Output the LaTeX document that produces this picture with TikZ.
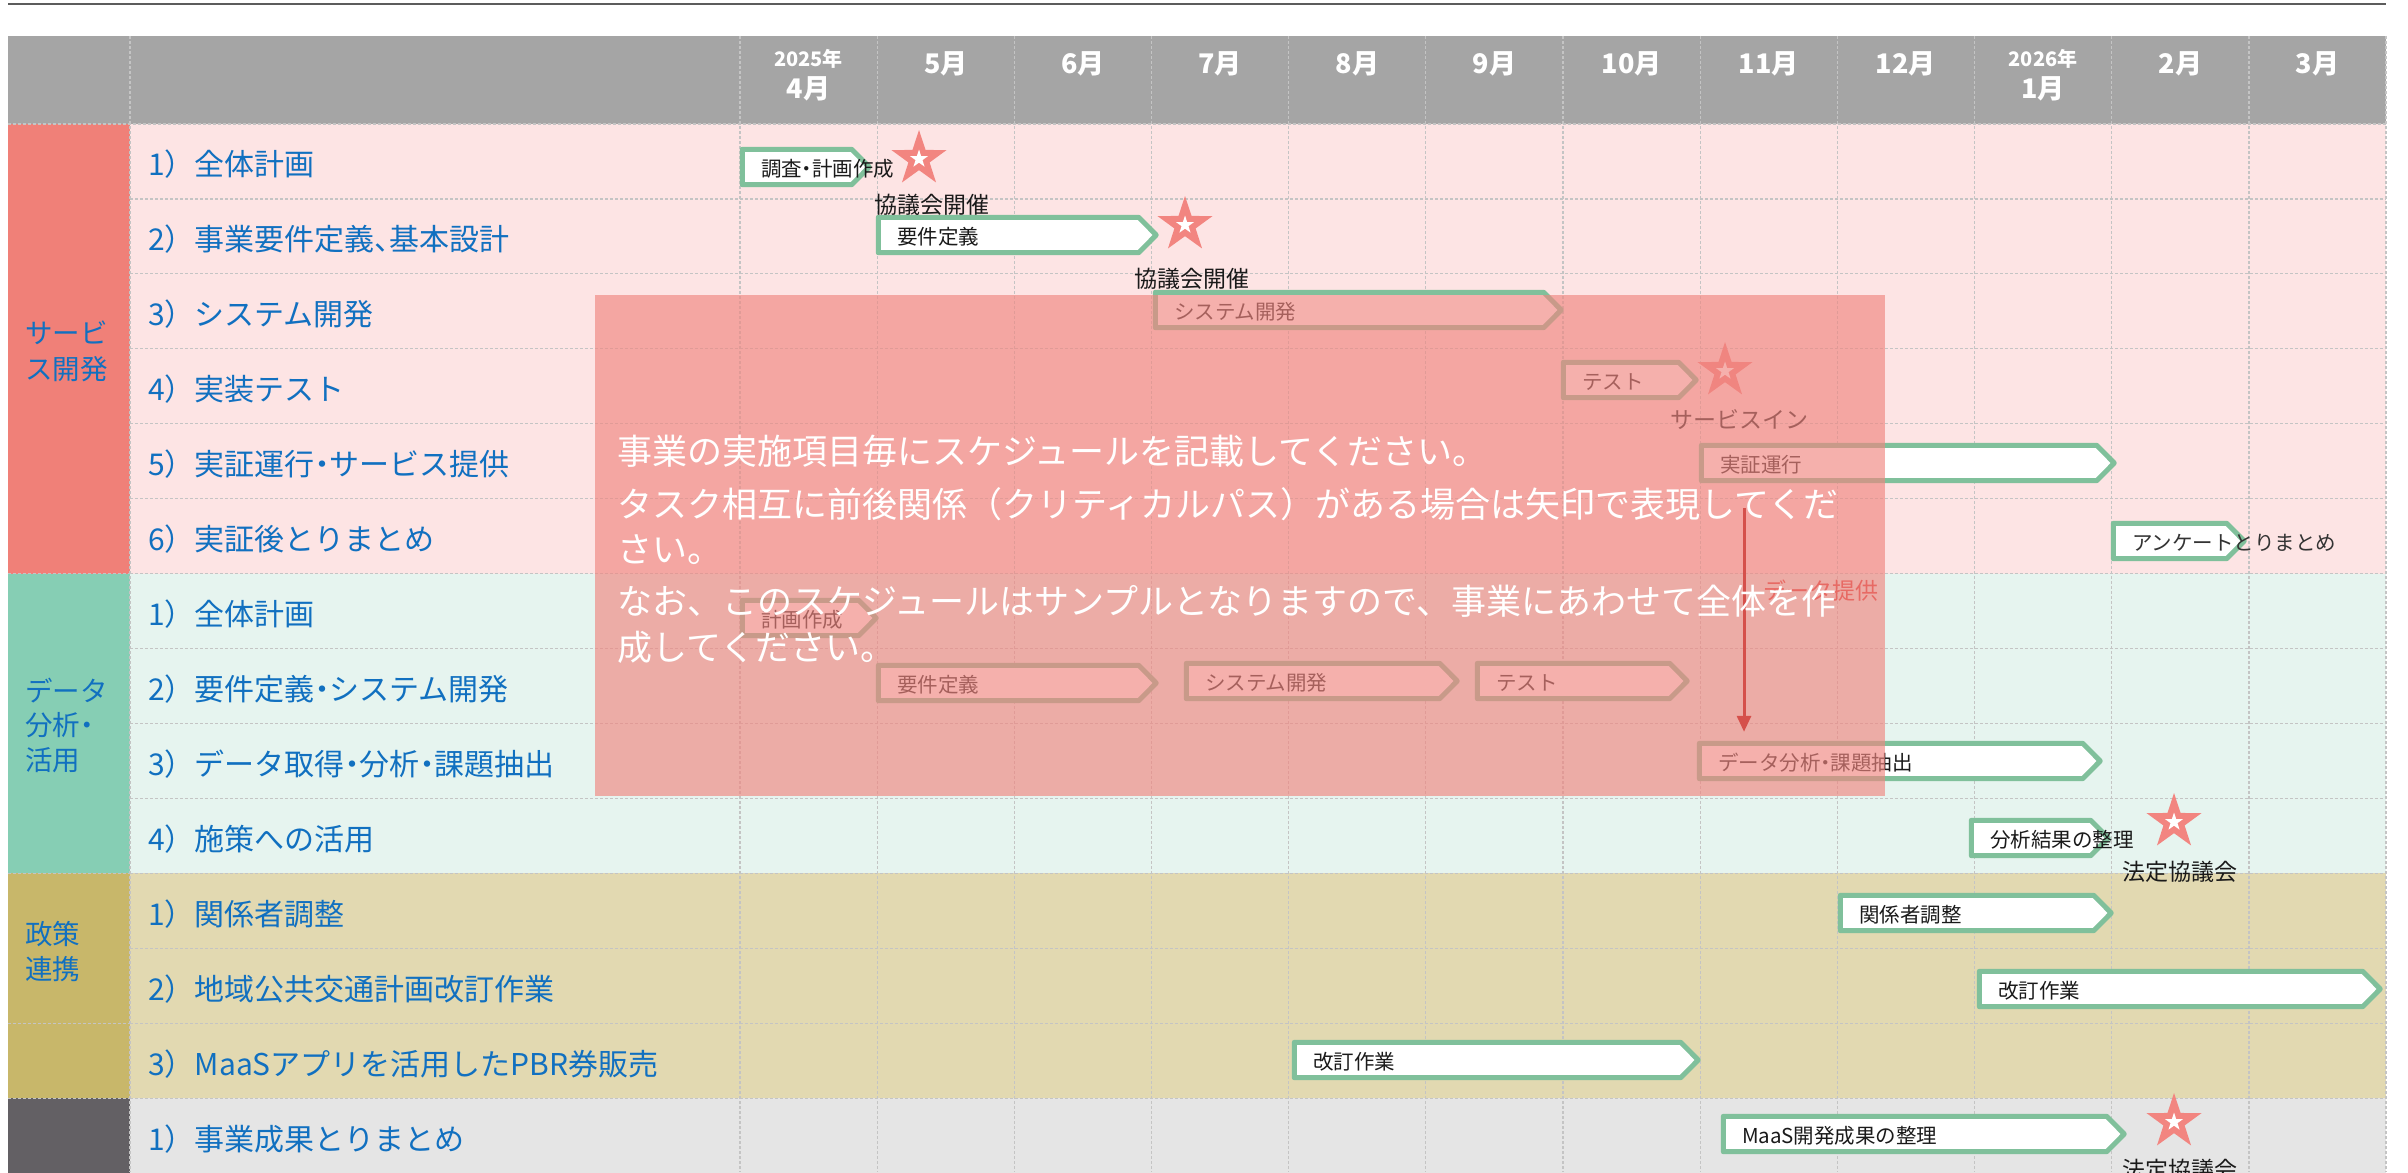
\documentclass[tikz,border=0pt]{standalone}
\usepackage{fontspec}
\setmainfont{Noto Sans CJK JP}
\usetikzlibrary{shapes.geometric,arrows.meta}
\definecolor{hdrgray}{HTML}{A5A5A5}
\definecolor{rowpink}{HTML}{FDE4E4}
\definecolor{rowmint}{HTML}{E6F4EF}
\definecolor{rowkhaki}{HTML}{E2D9B1}
\definecolor{rowgray}{HTML}{E5E5E5}
\definecolor{catpink}{HTML}{F08078}
\definecolor{catmint}{HTML}{86CEB4}
\definecolor{catkhaki}{HTML}{C8B76A}
\definecolor{catdark}{HTML}{636064}
\definecolor{labblue}{HTML}{1170C0}
\definecolor{bargreen}{HTML}{80C09B}
\definecolor{starred}{HTML}{F28580}
\definecolor{veilc}{HTML}{F08680}
\definecolor{gridc}{HTML}{C4C4C4}
\definecolor{topline}{HTML}{5C5C5C}
\definecolor{arrred}{HTML}{D5504B}
\definecolor{provred}{HTML}{D93631}
\definecolor{ink}{HTML}{1A1A1A}
\definecolor{ink2}{HTML}{333333}

\newcommand\hw[1]{{\addfontfeature{RawFeature=+halt}#1}}
\newcommand\gbar[6]{%
  \node[barbox, minimum width={#3-#2-5.5}] (#1) at ({(#2+#3-0.5)/2},#4) {};
  \draw[barline] (#1.north west) -- ([xshift=-17.5pt]#1.north east) -- (#1.east)
     -- ([xshift=-17.5pt]#1.south east) -- (#1.south west) -- cycle;
  \node[bartext, text=#6] (#1t) at ([xshift=18.5pt,yshift=-2pt]#1.west) {#5};
}
\newcommand\mstar[6]{%
  \node[bigstar] (#1) at (#2,#3) {};
  \node[smallstar] (#1w) at (#1.center) {};
  \node[mslab] (#1l) at (#4,#5) {#6};
}

\begin{document}
\begin{tikzpicture}[x=1pt,y=-1pt,
  t/.style={inner sep=0pt, font={\fontsize{#1pt}{#1pt}\selectfont}, text height={0.76*#1pt}, text depth=0pt},
  tb/.style={inner sep=0pt, font={\fontsize{#1pt}{#1pt}\selectfont\bfseries}, text height={0.76*#1pt}, text depth=0pt},
  tasklab/.style={t=30, anchor=west, text=labblue},
  catlab/.style={t=27.5, anchor=west, text=labblue},
  hdrm/.style={tb=27, text=white},
  hdry/.style={tb=20, text=white},
  barbox/.style={rectangle, inner sep=0pt, minimum height=35pt, draw=none},
  barline/.style={draw=bargreen, line width=5pt, fill=white, line join=round},
  bartext/.style={t=20.5, anchor=west},
  bigstar/.style={star, star points=5, star point ratio=2.6, fill=starred, draw=none, minimum size=58pt, inner sep=0pt},
  smallstar/.style={star, star points=5, star point ratio=2.6, fill=white, draw=none, minimum size=19pt, inner sep=0pt},
  mslab/.style={t=23, text=ink},
  gridline/.style={draw=gridc, line width=1.2pt, dash pattern=on 3pt off 2pt},
  veilbox/.style={rectangle, fill=veilc, fill opacity=0.65, draw=none, inner sep=0pt, minimum width=1290pt, minimum height=501pt},
  ovtext/.style={t=35, anchor=west, text=white},
  flowarrow/.style={draw=arrred, line width=3pt, -{Triangle[length=16pt,width=14pt]}},
  provlab/.style={t=23, anchor=west, text=provred}
]
\fill[white] (0,0) rectangle (2408,1172);
\useasboundingbox (0,0) rectangle (2408,1172);

% top rule
\draw[topline, line width=2.5pt] (8,4) -- (2386,4);

% header band
\fill[hdrgray] (8,36) rectangle (2386,124);

% row backgrounds
\fill[rowpink] (130,124) rectangle (2386,573.6);
\fill[rowmint] (130,573.6) rectangle (2386,873.3);
\fill[rowkhaki] (130,873.3) rectangle (2386,1098.1);
\fill[rowgray] (130,1098.1) rectangle (2386,1180);

% category column
\fill[catpink] (8,124) rectangle (130,573.6);
\fill[catmint] (8,573.6) rectangle (130,873.3);
\fill[catkhaki] (8,873.3) rectangle (130,1098.1);
\fill[catdark] (8,1098.1) rectangle (130,1180);

% grid
\foreach \k in {1,...,13} \draw[gridline] (130,{124+74.93*\k}) -- (2386,{124+74.93*\k});
\draw[gridline] (8,124) -- (2386,124);
\foreach \k in {6,10,12,13} \draw[gridline] (8,{124+74.93*\k}) -- (130,{124+74.93*\k});
\foreach \j in {0,...,12} \draw[gridline] ({740+137.17*\j},36) -- ({740+137.17*\j},1172);
\draw[gridline] (130,36) -- (130,1172);

% header texts
\node[hdry] (y25) at (808.6,58.5) {2025年};
\node[hdrm] (m4) at (808.6,88.5) {4月};
\node[hdrm] (m5) at (945.8,63) {5月};
\node[hdrm] (m6) at (1082.9,63) {6月};
\node[hdrm] (m7) at (1220.1,63) {7月};
\node[hdrm] (m8) at (1357.3,63) {8月};
\node[hdrm] (m9) at (1494.4,63) {9月};
\node[hdrm] (m10) at (1631.6,63) {10月};
\node[hdrm] (m11) at (1768.8,63) {11月};
\node[hdrm] (m12) at (1905.9,63) {12月};
\node[hdry] (y26) at (2043.1,58.5) {2026年};
\node[hdrm] (m1) at (2043.1,88.5) {1月};
\node[hdrm] (m2) at (2180.3,63) {2月};
\node[hdrm] (m3) at (2317.4,63) {3月};

% category labels
\node[catlab] (c1a) at (25,333.5) {サービ};
\node[catlab] (c1b) at (25,369.5) {ス開発};
\node[catlab] (c2a) at (25,691) {データ};
\node[catlab] (c2b) at (25,725.5) {分析\hw{・}};
\node[catlab] (c2c) at (25,760.5) {活用};
\node[catlab] (c3a) at (25,934.5) {政策};
\node[catlab] (c3b) at (25,969.5) {連携};

% task labels
\node[tasklab] (r0) at (148,164.5) {1）全体計画};
\node[tasklab] (r1) at (148,239.4) {2）事業要件定義\hw{、}基本設計};
\node[tasklab] (r2) at (148,314.3) {3）システム開発};
\node[tasklab] (r3) at (148,389.3) {4）実装テスト};
\node[tasklab] (r4) at (148,464.2) {5）実証運行\hw{・}サービス提供};
\node[tasklab] (r5) at (148,539.1) {6）実証後とりまとめ};
\node[tasklab] (r6) at (148,614.0) {1）全体計画};
\node[tasklab] (r7) at (148,689.0) {2）要件定義\hw{・}システム開発};
\node[tasklab] (r8) at (148,763.9) {3）データ取得\hw{・}分析\hw{・}課題抽出};
\node[tasklab] (r9) at (148,838.8) {4）施策への活用};
\node[tasklab] (r10) at (148,913.8) {1）関係者調整};
\node[tasklab] (r11) at (148,988.7) {2）地域公共交通計画改訂作業};
\node[tasklab] (r12) at (148,1063.6) {3）MaaSアプリを活用したPBR券販売};
\node[tasklab] (r13) at (148,1138.6) {1）事業成果とりまとめ};

% bars
\gbar{b0}{740}{872}{167}{調査\hw{・}計画作成}{ink}
\gbar{b1}{876}{1159}{235}{要件定義}{ink}
\gbar{b2}{1153}{1564}{310}{システム開発}{ink}
\gbar{b3}{1561}{1699}{380}{テスト}{ink}
\gbar{b4}{1699}{2117}{463}{実証運行}{ink}
\gbar{b5}{2111}{2247}{541}{アンケートとりまとめ}{ink2}
\gbar{b6}{740}{879}{618}{計画作成}{ink}
\gbar{b7a}{876}{1159}{683}{要件定義}{ink}
\gbar{b7b}{1184}{1460}{681}{システム開発}{ink}
\gbar{b7c}{1475}{1690}{681}{テスト}{ink}
\gbar{b8}{1697}{2103}{761}{データ分析\hw{・}課題抽出}{ink}
\gbar{b9}{1969}{2111}{838}{分析結果の整理}{ink}
\gbar{b10}{1838}{2114}{913}{関係者調整}{ink}
\gbar{b11}{1977}{2383}{989}{改訂作業}{ink}
\gbar{b12}{1292}{1701}{1060}{改訂作業}{ink}
\gbar{b13}{1721}{2127}{1134}{MaaS開発成果の整理}{ink}

% milestones
\mstar{s0}{919}{159}{932}{205}{協議会開催}
\mstar{s1}{1185}{225}{1192}{279}{協議会開催}
\mstar{s3}{1725}{371}{1739}{420}{サービスイン}
\mstar{s9}{2174}{822}{2180}{872}{法定協議会}
\mstar{s13}{2174}{1122}{2180}{1170}{法定協議会}

% data provision label
\node[provlab] (dp) at (1763,591) {データ提供};

% semi-transparent note box
\node[veilbox] (veil) at (1240,545.5) {};

% dependency arrow
\coordinate (ax) at (1744,0);
\draw[flowarrow, shorten <=27.5pt, shorten >=11.5pt] (b4.south -| ax) -- (b8.north -| ax);

% note text
\node[ovtext] (o1) at (617,451) {事業の実施項目毎にスケジュールを記載してください。};
\node[ovtext] (o2) at (617,504) {タスク相互に前後関係（クリティカルパス）がある場合は矢印で表現してくだ};
\node[ovtext] (o3) at (617,549) {さい。};
\node[ovtext] (o4) at (617,601) {なお、このスケジュールはサンプルとなりますので、事業にあわせて全体を作};
\node[ovtext] (o5) at (617,647) {成してください。};
\end{tikzpicture}
\end{document}
